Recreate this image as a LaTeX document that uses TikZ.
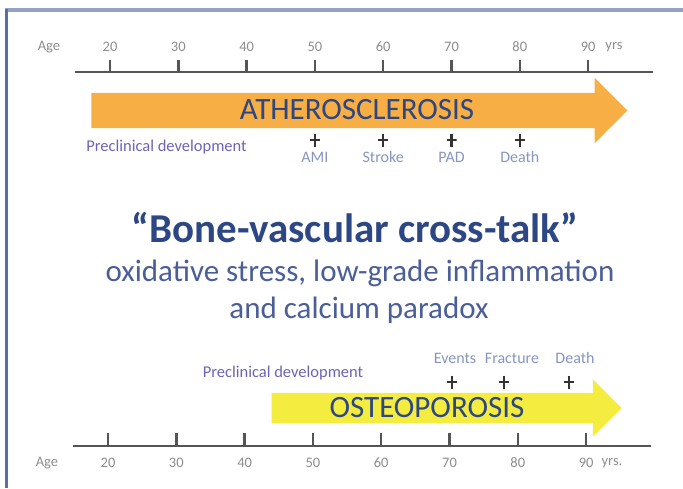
\documentclass[tikz,border=0pt]{standalone}
\usepackage{fontspec}
\setmainfont{Carlito}
\usetikzlibrary{shapes.arrows, positioning, calc}
\definecolor{myOrange}{RGB}{246,174,69}
\definecolor{myYellow}{RGB}{245,236,64}
\definecolor{myNavy}{RGB}{44,71,132}
\definecolor{myBlue}{RGB}{74,94,152}
\definecolor{myLight}{RGB}{134,150,192}
\definecolor{myPurple}{RGB}{108,100,180}
\definecolor{myFrame}{RGB}{91,111,161}
\definecolor{myAxis}{RGB}{85,85,85}

\tikzset{
  axisline/.style={line width=2.5pt, myAxis},
  tickline/.style={line width=2.5pt, myAxis},
  agelabel/.style={inner sep=0pt, text=black!45, font=\fontsize{14.5}{14.5}\selectfont},
  evlabel/.style={inner sep=0pt, text=myLight, font=\fontsize{16}{16}\selectfont},
  prelabel/.style={inner sep=0pt, text=myPurple, font=\fontsize{16.5}{16.5}\selectfont},
  disease/.style={inner sep=0pt, text=myNavy, font=\fontsize{31}{31}\selectfont},
  evcross/.style={minimum width=10pt, minimum height=13pt, inner sep=0pt,
    path picture={
      \draw[line width=2.2pt, black!80] (path picture bounding box.north) -- (path picture bounding box.south);
      \draw[line width=2.2pt, black!80] (path picture bounding box.west) -- (path picture bounding box.east);
    }}
}

\begin{document}
\begin{tikzpicture}[x=1pt, y=-1pt]
			\useasboundingbox (0,0) rectangle (683,488);
			% Frame
			\draw[line width=4pt, myFrame!65] (5,10) -- (683,10);
			\draw[line width=3pt, myFrame] (6.5,9) -- (6.5,488);
			% Top age axis
			\draw[axisline] (75,72) -- (653,72);
			\foreach \a [count=\i from 0] in {20,30,...,90}{
				\draw[tickline] (110+68.3*\i,60) -- (110+68.3*\i,72);
				\node[agelabel] (top\a) at (110+68.3*\i,47) {\a};
			}
			\node[agelabel] (topage) at (49,47) {Age};
			\node[agelabel] (topyrs) at (614,47) {yrs};
			% Atherosclerosis arrow
			\node[single arrow, fill=myOrange, minimum height=536pt, inner xsep=0pt, inner ysep=17.5pt, single arrow head extend=15pt] (athero) at (350.5,110.5) {};
			\node[disease] (atherotext) at (357,110) {ATHEROSCLEROSIS};
			\node[prelabel] (topprec) at (166.5,147) {Preclinical development};
			% Cardiovascular events
			\node[evcross] (ami) at (314.9,140) {};
			\node[evcross] (stroke) at (383.2,140) {};
			\node[evcross] (pad) at (451.5,140) {};
			\node[evcross] (cvdeath) at (519.8,140) {};
			\node[evlabel] (amitext) at (314.9,157) {AMI};
			\node[evlabel] (stroketext) at (383.2,157) {Stroke};
			\node[evlabel] (padtext) at (451.5,157) {PAD};
			\node[evlabel] (cvdeathtext) at (519.8,157) {Death};
			% Cross-talk
			\node[inner sep=0pt, text=myNavy, font=\fontsize{41}{41}\selectfont\bfseries] (crosstalk) at (355,228) {“Bone-vascular cross-talk”};
			\node[inner sep=0pt, text=myBlue, font=\fontsize{31}{31}\selectfont] (mech1) at (360,273) {oxidative stress, low-grade inflammation};
			\node[inner sep=0pt, text=myBlue, font=\fontsize{31}{31}\selectfont] (mech2) at (359,310) {and calcium paradox};
			% Osteoporosis events
			\node[prelabel] (botprec) at (283,373) {Preclinical development};
			\node[evlabel] (eventstext) at (455,358) {Events};
			\node[evlabel] (fracturetext) at (512,358) {Fracture};
			\node[evlabel] (bonedeathtext) at (575,358) {Death};
			\node[evcross] (events) at (452,382) {};
			\node[evcross] (fracture) at (504,382) {};
			\node[evcross] (bonedeath) at (569,382) {};
			% Osteoporosis arrow
			\node[single arrow, fill=myYellow, minimum height=350pt, inner xsep=0pt, inner ysep=15pt, single arrow head extend=13.5pt] (osteo) at (439,408) {};
			\node[disease] (osteotext) at (427,408) {OSTEOPOROSIS};
			% Bottom age axis
			\draw[axisline] (73,446) -- (651,446);
			\foreach \a [count=\i from 0] in {20,30,...,90}{
				\draw[tickline] (108+68.3*\i,433) -- (108+68.3*\i,446);
				\node[agelabel] (bot\a) at (108+68.3*\i,463) {\a};
			}
			\node[agelabel] (botage) at (47,463) {Age};
			\node[agelabel] (botyrs) at (612,463) {yrs.};
		\end{tikzpicture}
\end{document}
